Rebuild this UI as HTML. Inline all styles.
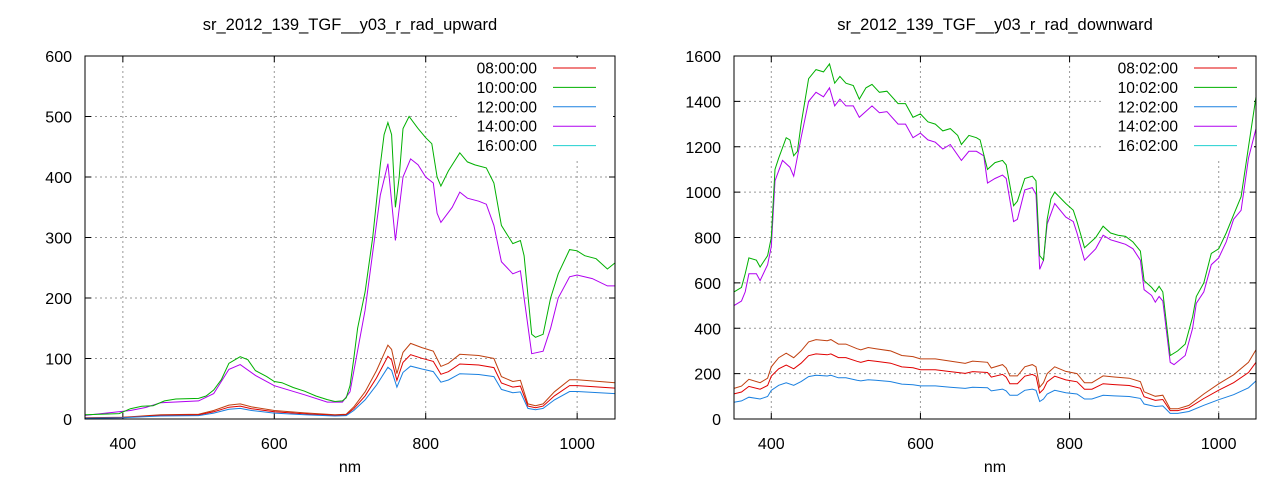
<!DOCTYPE html>
<html><head><meta charset="utf-8"><style>
html,body{margin:0;padding:0;background:#fff}
svg{display:block}
text{font-family:"Liberation Sans",sans-serif;font-size:16px;fill:#000}
text.lg{font-size:15.5px}
text.tt{font-size:16.5px}
</style></head><body>
<svg id="s" width="1280" height="480" xmlns="http://www.w3.org/2000/svg"></svg>
<script>
const S=document.getElementById('s');
const ns='http://www.w3.org/2000/svg';
function el(t,a,txt){const e=document.createElementNS(ns,t);for(const k in a)e.setAttribute(k,a[k]);if(txt!=null)e.textContent=txt;S.appendChild(e);return e;}
function parse(s){return s.trim().split(/\s+/).map(p=>p.split(':').map(Number));}
function plot(P){
 const X=v=>P.x0+(v-350)/700*(P.x1-P.x0);
 const Y=v=>P.y1-v/P.ymax*(P.y1-P.y0);
 el('text',{x:(P.x0+P.x1)/2,y:30,'text-anchor':'middle','class':'tt'},P.title);
 for(const t of [400,600,800,1000]){el('line',{x1:X(t),x2:X(t),y1:P.y0,y2:P.y1,stroke:'#999','stroke-dasharray':'2,3','stroke-width':1});
  el('text',{x:X(t),y:P.y1+30,'text-anchor':'middle'},t);
  el('line',{x1:X(t),x2:X(t),y1:P.y1,y2:P.y1-6,stroke:'#000'});el('line',{x1:X(t),x2:X(t),y1:P.y0,y2:P.y0+6,stroke:'#000'});}
 for(let v=0;v<=P.ymax;v+=P.ystep){const y=Y(v);
  if(v>0&&v<P.ymax)el('line',{x1:P.x0,x2:P.x1,y1:y,y2:y,stroke:'#999','stroke-dasharray':'2,3','stroke-width':1});
  el('text',{x:P.x0-13,y:y+6,'text-anchor':'end'},v);
  el('line',{x1:P.x0,x2:P.x0+6,y1:y,y2:y,stroke:'#000'});el('line',{x1:P.x1,x2:P.x1-6,y1:y,y2:y,stroke:'#000'});}
 el('text',{x:(P.x0+P.x1)/2,y:472,'text-anchor':'middle'},'nm');
 el('rect',{x:P.x1-155,y:P.y0+2,width:153,height:102,fill:'#fff'});
 for(const s of P.series){
  const pts=s.d.map(([a,b])=>X(a).toFixed(1)+','+Y(b*(s.k||1)).toFixed(1)).join(' ');
  el('polyline',{points:pts,fill:'none',stroke:s.c,'stroke-width':1});
 }
 el('rect',{x:P.x0,y:P.y0,width:P.x1-P.x0,height:P.y1-P.y0,fill:'none',stroke:'#000'});
 P.leg.forEach((l,i)=>{const y=P.y0+12+i*19.4;
  el('text',{x:P.x1-78,y:y+5.5,'text-anchor':'end','class':'lg'},l[0]);
  el('line',{x1:P.x1-62,x2:P.x1-19,y1:y,y2:y,stroke:l[1]});});
}
const Lg=parse(`350:7 395:9 410:17 425:21 440:22 455:30 470:33 500:34 510:38 520:48 530:65 540:92 555:103 565:98 575:80 590:70 600:62 610:60 625:52 640:46 655:38 670:32 680:29 690:30 695:35 700:55 705:100 710:150 720:210 730:300 740:420 745:470 750:490 755:470 760:350 765:400 770:480 778:500 790:480 800:465 808:455 815:400 820:385 830:410 845:440 855:425 865:420 880:415 890:390 900:320 915:290 925:295 930:270 940:140 945:135 955:140 965:200 975:240 990:280 1000:278 1010:270 1025:265 1040:248 1050:258`);
const Lp=parse(`350:6 410:14 430:19 450:27 500:30 520:42 540:82 555:90 575:72 600:55 640:40 670:28 690:28 700:45 720:180 740:370 750:422 760:295 770:400 780:430 790:420 800:400 810:390 815:340 820:325 835:350 845:375 855:365 870:360 880:355 890:320 900:260 915:240 925:245 930:200 940:108 955:112 965:150 975:200 990:235 1000:238 1020:232 1040:220 1050:220`);
const Lb=parse(`350:2 400:3 450:7 500:8 520:14 540:23 555:25 570:20 600:14 640:10 680:7 695:8 705:20 720:45 735:80 750:122 755:115 762:75 770:110 780:125 795:118 810:112 820:87 830:92 845:107 870:105 890:100 900:70 915:62 925:64 935:25 945:22 955:25 970:45 990:65 1000:65 1050:60`);
const Rg=parse(`350:560 360:580 365:640 370:710 380:700 385:670 395:720 400:800 405:1100 410:1150 420:1240 425:1230 430:1160 435:1180 440:1300 450:1500 460:1540 470:1530 478:1565 485:1480 492:1510 500:1480 510:1470 518:1410 527:1460 535:1475 545:1440 555:1445 570:1390 580:1390 590:1330 600:1345 610:1310 620:1300 630:1270 640:1280 650:1250 655:1210 665:1250 675:1240 680:1230 690:1100 700:1130 710:1140 715:1120 725:940 730:960 740:1060 750:1070 755:1050 760:720 765:700 770:880 775:970 780:1000 795:950 805:920 810:870 820:755 835:800 845:850 855:820 865:810 875:805 885:780 895:740 900:610 910:580 915:560 920:585 925:560 935:280 945:300 955:330 965:450 970:540 980:600 990:730 1000:750 1010:820 1020:900 1030:980 1040:1200 1050:1420`);
const Rp=parse(`350:500 360:520 365:560 370:640 380:640 385:610 395:680 400:760 405:1050 415:1140 425:1110 430:1070 440:1240 450:1400 460:1440 470:1420 478:1460 485:1380 492:1410 500:1380 510:1380 518:1330 535:1380 545:1350 555:1355 570:1300 580:1300 590:1240 600:1260 610:1230 620:1220 630:1190 640:1210 655:1140 665:1180 675:1180 685:1160 690:1040 700:1060 710:1075 715:1060 725:870 730:880 740:1010 750:1020 755:990 760:660 765:700 770:860 780:950 795:890 805:870 810:820 820:700 835:750 845:810 855:790 865:780 875:770 885:750 895:700 900:570 910:545 915:515 920:540 925:520 935:250 940:240 955:280 965:400 970:510 980:560 990:680 1000:710 1010:780 1020:880 1030:920 1040:1150 1050:1280`);
const Rb=parse(`350:135 360:145 370:175 385:160 395:180 400:230 410:270 420:290 430:270 440:300 450:340 460:350 475:345 480:350 490:330 500:330 515:310 520:305 530:315 540:310 560:300 575:280 590:275 600:265 620:265 640:255 660:245 670:255 690:250 695:225 710:240 715:225 720:190 730:190 740:230 750:240 755:230 760:140 765:160 770:200 780:230 795:210 810:200 820:160 830:160 845:190 860:185 880:180 895:165 900:120 915:100 925:105 935:45 945:45 960:60 980:110 1000:155 1020:195 1040:250 1050:305`);
plot({x0:85,x1:615,y0:56,y1:419,ymax:600,ystep:100,title:'sr_2012_139_TGF__y03_r_rad_upward',
 leg:[['08:00:00','#e00000'],['10:00:00','#00b000'],['12:00:00','#1a80e0'],['14:00:00','#b000f0'],['16:00:00','#20d0d0']],
 series:[{d:Lb,c:'#c04010'},{d:Lb,c:'#e00000',k:0.85},{d:Lb,c:'#1a80e0',k:0.7},{d:Lp,c:'#b000f0'},{d:Lg,c:'#00b000'}]});
plot({x0:734,x1:1256,y0:56,y1:419,ymax:1600,ystep:200,title:'sr_2012_139_TGF__y03_r_rad_downward',
 leg:[['08:02:00','#e00000'],['10:02:00','#00b000'],['12:02:00','#1a80e0'],['14:02:00','#b000f0'],['16:02:00','#20d0d0']],
 series:[{d:Rb,c:'#c04010'},{d:Rb,c:'#e00000',k:0.82},{d:Rb,c:'#1a80e0',k:0.55},{d:Rp,c:'#b000f0'},{d:Rg,c:'#00b000'}]});
</script>
</body></html>
